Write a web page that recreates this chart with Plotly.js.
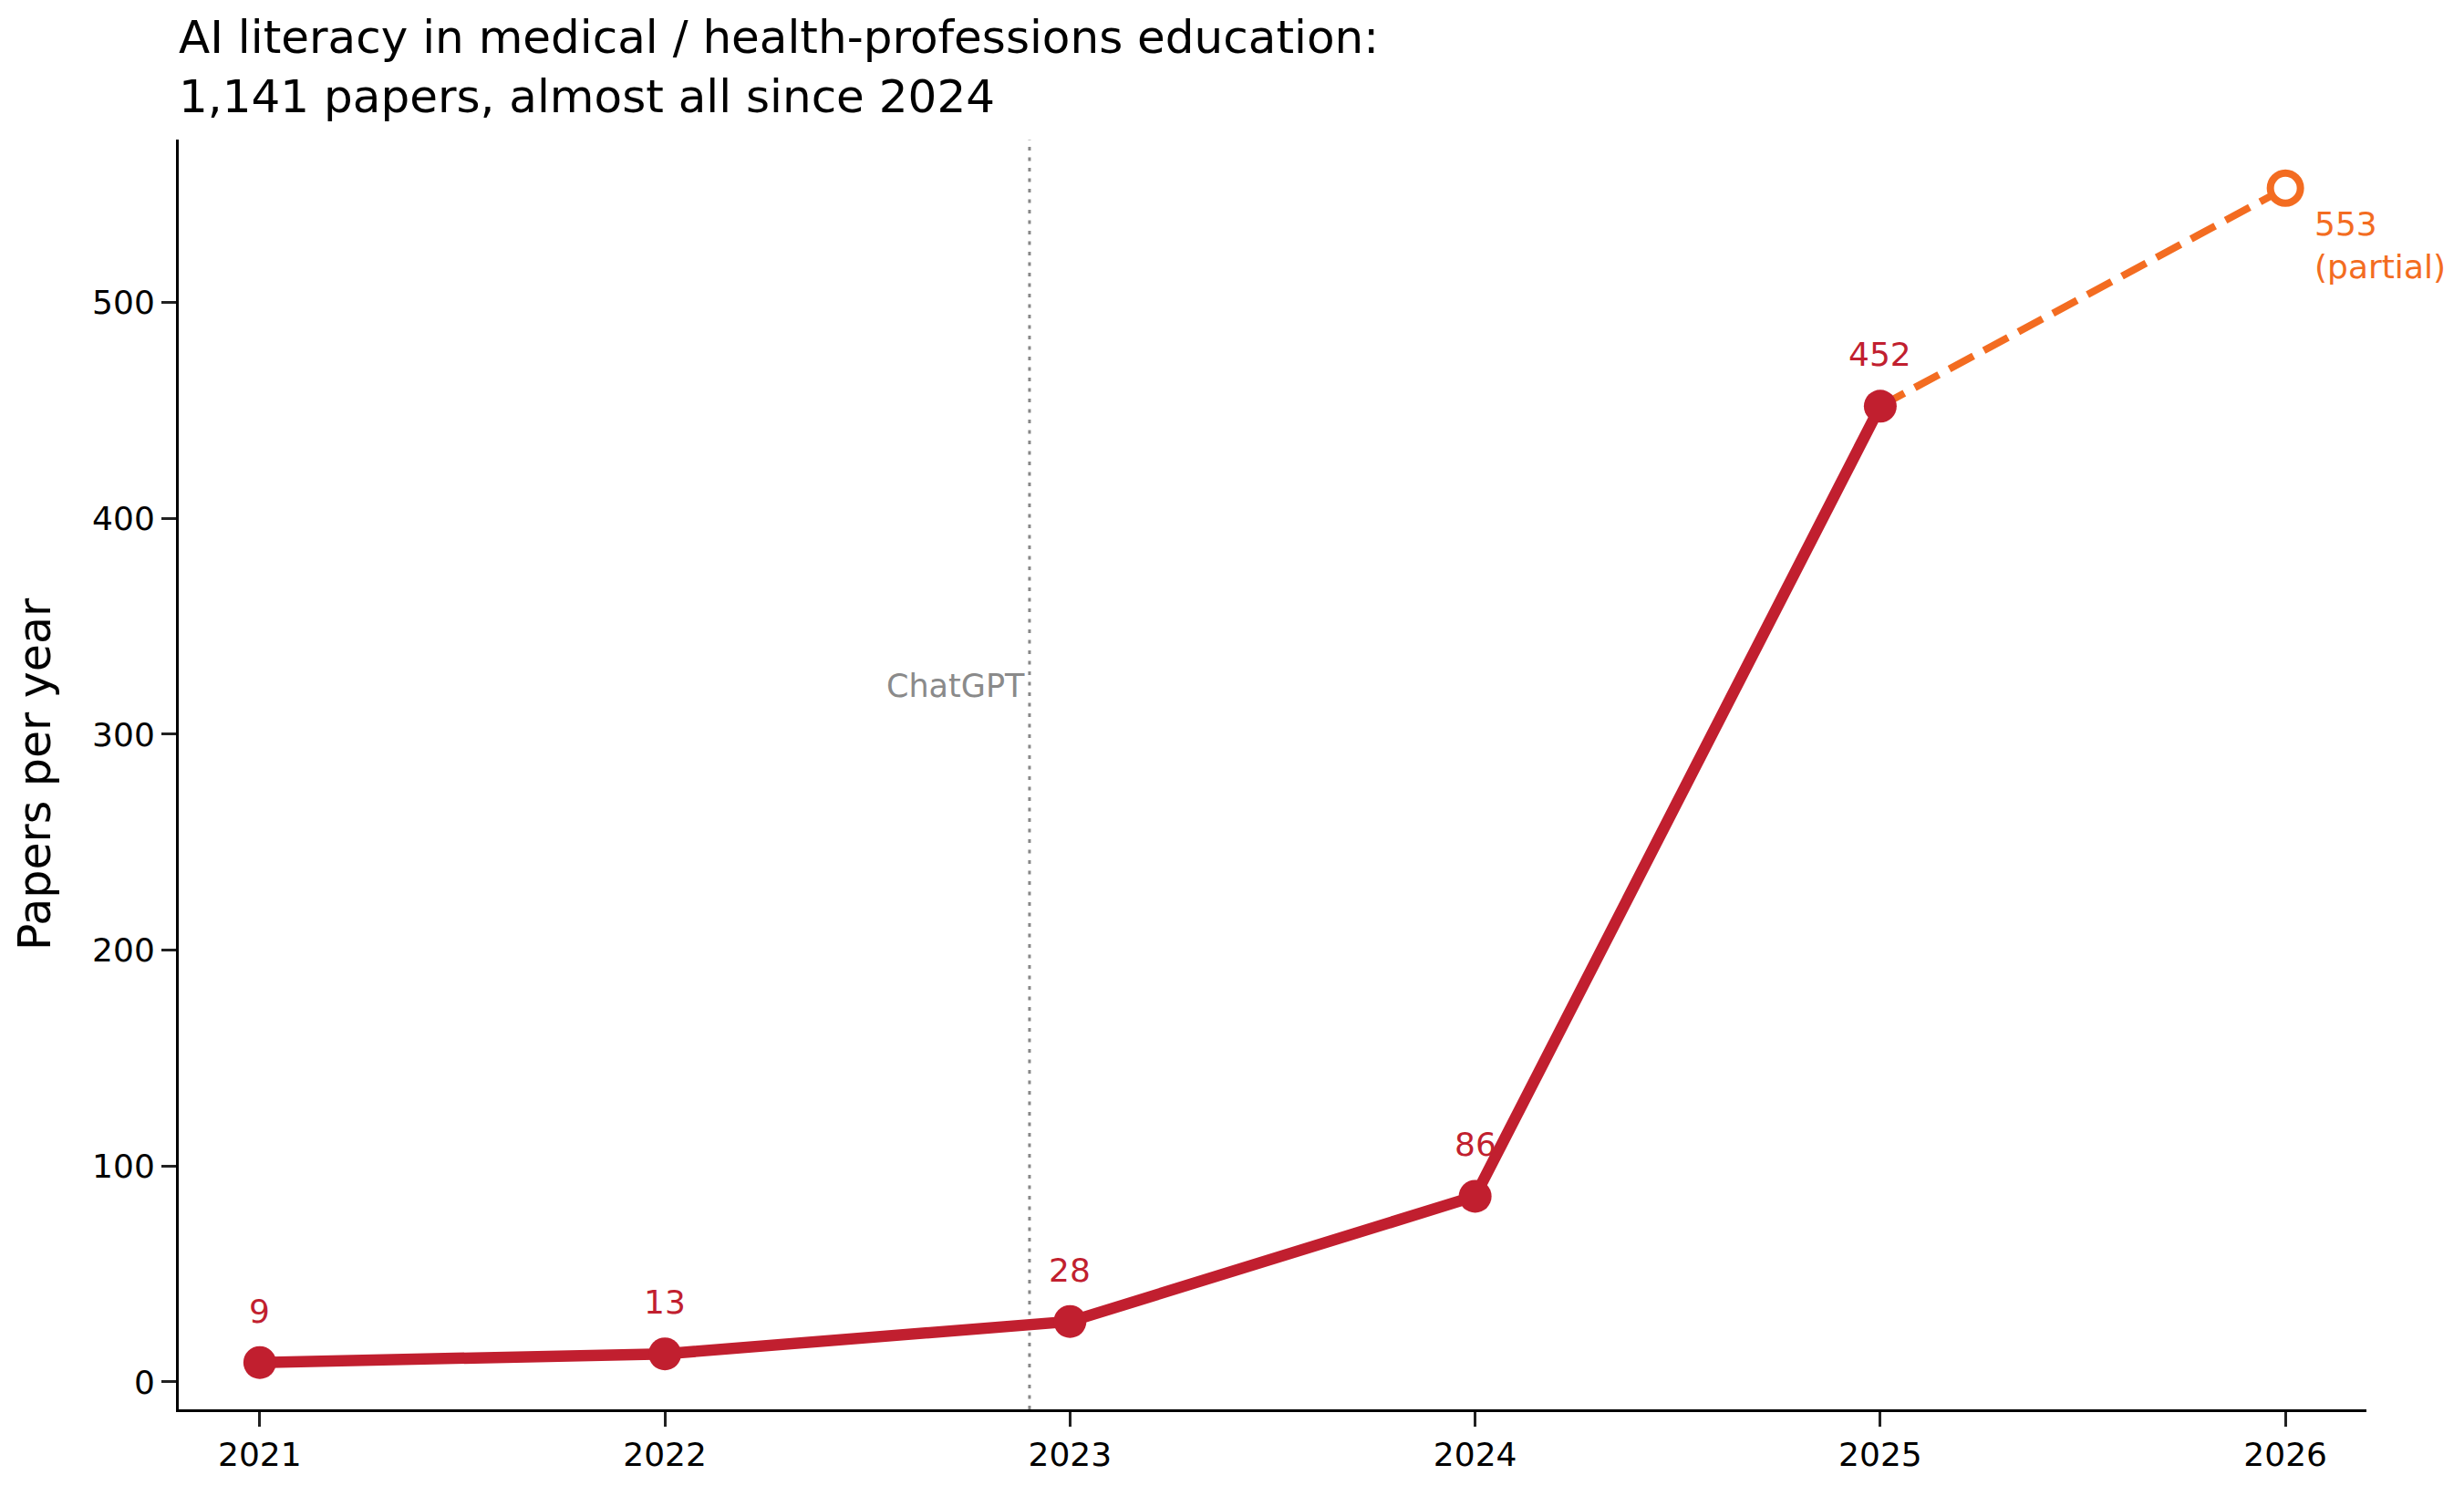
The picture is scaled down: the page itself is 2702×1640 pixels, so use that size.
<!DOCTYPE html>
<html>
<head>
<meta charset="utf-8">
<script src="https://cdn.plot.ly/plotly-3.0.1.min.js"></script>
<style>
  html, body { margin: 0; padding: 0; background: #ffffff; }
  #chart { width: 2702px; height: 1640px; }
</style>
</head>
<body>
<div id="chart"></div>
<script>
// Papers per publication year; 2026 is only partly counted so far
const years = [2021, 2022, 2023, 2024, 2025, 2026];
const papers = [9, 13, 28, 86, 452, 553];
const partialYear = 2026;
const partialNote = "(partial)";

// ChatGPT public release (late November 2022)
const chatgptX = 2022.9;
const chatgptLabel = "ChatGPT";

const yTickVals = [0, 100, 200, 300, 400, 500];
const xTickVals = [2021, 2022, 2023, 2024, 2025, 2026];

const RED = "#C11F2F";
const ORANGE = "#F36C21";
const FONT = "DejaVu Sans, Verdana, sans-serif";

const fullIdx = years.map((y, i) => i).filter(i => years[i] !== partialYear);
const partIdx = years.map((y, i) => i).filter(i => years[i] === partialYear);
const lastFull = fullIdx[fullIdx.length - 1];

// Dashed link from the last complete year to the partial one
const partialLine = {
  x: [years[lastFull]].concat(partIdx.map(i => years[i])),
  y: [papers[lastFull]].concat(partIdx.map(i => papers[i])),
  mode: "lines",
  line: { color: ORANGE, width: 8, dash: "30px,13px" },
  hoverinfo: "skip",
  showlegend: false
};

const fullLine = {
  x: fullIdx.map(i => years[i]),
  y: fullIdx.map(i => papers[i]),
  mode: "lines+markers",
  line: { color: RED, width: 12.5 },
  marker: { color: RED, size: 36 },
  showlegend: false
};

const partialMarker = {
  x: partIdx.map(i => years[i]),
  y: partIdx.map(i => papers[i]),
  mode: "markers",
  marker: { color: "#ffffff", size: 33, line: { color: ORANGE, width: 8 } },
  showlegend: false
};

const annotations = [];
fullIdx.forEach(i => {
  annotations.push({
    x: years[i], y: papers[i], xref: "x", yref: "y",
    text: String(papers[i]),
    showarrow: false,
    xanchor: "center", yanchor: "bottom",
    yshift: 34,
    font: { family: FONT, size: 36, color: RED }
  });
});
partIdx.forEach(i => {
  annotations.push({
    x: years[i], y: papers[i], xref: "x", yref: "y",
    text: String(papers[i]) + "<br>" + partialNote,
    showarrow: false, align: "left",
    xanchor: "left", yanchor: "top",
    xshift: 30, yshift: -17,
    font: { family: FONT, size: 36, color: ORANGE }
  });
});
annotations.push({
  x: chatgptX, y: 0.57, xref: "x", yref: "paper",
  text: chatgptLabel,
  showarrow: false,
  xanchor: "right", yanchor: "middle",
  xshift: -3,
  font: { family: FONT, size: 35, color: "#8a8a8a" }
});

const layout = {
  width: 2702,
  height: 1640,
  paper_bgcolor: "#ffffff",
  plot_bgcolor: "#ffffff",
  margin: { l: 196, r: 107, t: 153, b: 95, pad: 0 },
  font: { family: FONT, color: "#000000" },
  title: {
    text: "AI literacy in medical / health-professions education:<br>1,141 papers, almost all since 2024",
    font: { family: FONT, size: 50, color: "#000000" },
    x: 0, xref: "paper", xanchor: "left",
    y: 0.9645, yref: "container", yanchor: "top"
  },
  xaxis: {
    range: [2020.8, 2026.2],
    tickmode: "array",
    tickvals: xTickVals,
    ticktext: xTickVals.map(String),
    showgrid: false, zeroline: false,
    showline: true, linecolor: "#000000", linewidth: 3,
    ticks: "outside", ticklen: 16, tickwidth: 3, tickcolor: "#222222",
    tickfont: { family: FONT, size: 36, color: "#000000" }
  },
  yaxis: {
    range: [-12.7, 575.5],
    tickmode: "array",
    tickvals: yTickVals,
    ticktext: yTickVals.map(String),
    showgrid: false, zeroline: false,
    showline: true, linecolor: "#000000", linewidth: 3,
    ticks: "outside", ticklen: 16, tickwidth: 3, tickcolor: "#222222",
    tickfont: { family: FONT, size: 36, color: "#000000" },
    title: { text: "Papers per year", font: { family: FONT, size: 49, color: "#000000" }, standoff: 30 },
    automargin: true
  },
  shapes: [{
    type: "line", xref: "x", yref: "paper",
    x0: chatgptX, x1: chatgptX, y0: 0, y1: 1,
    line: { color: "#888888", width: 3, dash: "4px,7.5px" },
    layer: "below"
  }],
  annotations: annotations,
  showlegend: false
};

Plotly.newPlot("chart", [partialLine, fullLine, partialMarker], layout, { staticPlot: true, displayModeBar: false });
</script>
</body>
</html>
